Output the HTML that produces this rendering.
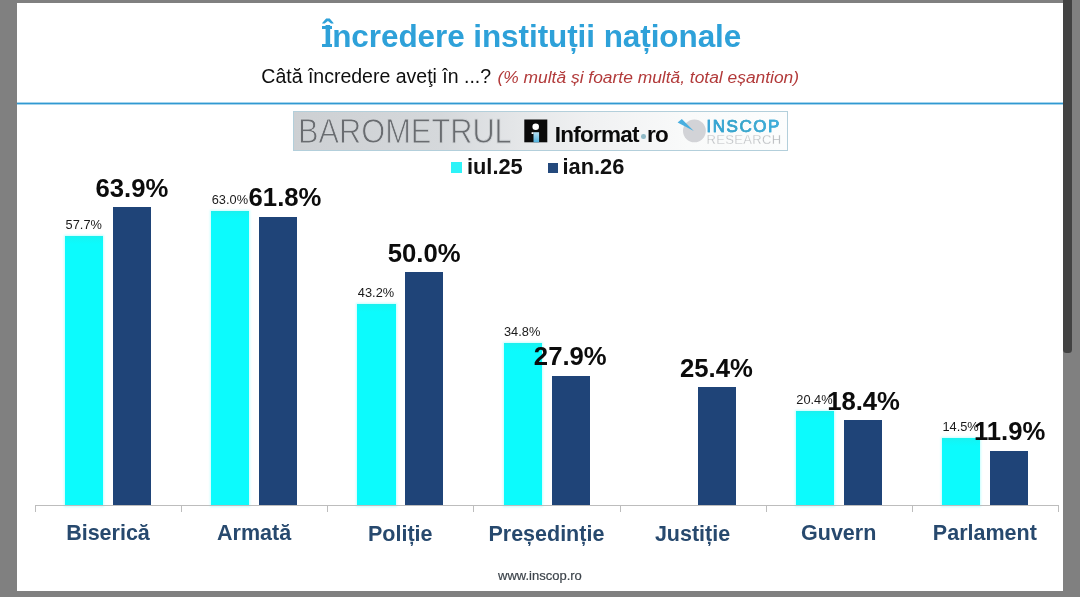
<!DOCTYPE html>
<html><head><meta charset="utf-8">
<style>
html,body{margin:0;padding:0;}
body{width:1080px;height:597px;background:#808080;position:relative;overflow:hidden;font-family:"Liberation Sans",sans-serif;}
#page{position:absolute;left:17px;top:3px;width:1046px;height:588px;background:#fff;}
#wrap{position:absolute;left:0;top:0;width:1080px;height:597px;will-change:transform;}
.abs{position:absolute;white-space:nowrap;line-height:1;}
#sb{position:absolute;left:1063px;top:0;width:9px;height:353px;background:#424242;border-radius:0 0 3.5px 3.5px;}
#title{left:323.5px;top:20.5px;font-size:31.5px;font-weight:bold;color:#2ea1d9;letter-spacing:-0.08px;}
#sub{left:261.3px;top:67.3px;font-size:19.5px;color:#0e0e0e;}
#sub i{color:#b23a3a;font-size:17.4px;margin-left:1px;}
#line{position:absolute;left:17px;top:102px;width:1046px;height:3px;background:linear-gradient(180deg,#a6d4ec 0,#a6d4ec 1px,#3199d2 1px,#3199d2 2px,#a6d4ec 2px,#a6d4ec 3px);}
.bar{position:absolute;}
.c{background:linear-gradient(180deg,#1cf0ee 0,#12f6f6 3px,#0cfbfd 8px,#0cfbfd 100%);box-shadow:0 0 2px 1px #c8ffff;}
.n{background:#1f4478;}
.big{font-size:25.7px;font-weight:bold;color:#0c0c0c;width:120px;text-align:center;}
.sm{font-size:12.8px;color:#1a1a1a;width:80px;text-align:center;}
.cat{font-size:21.5px;font-weight:bold;color:#27496e;text-align:center;width:146px;}
#axis{position:absolute;left:35px;top:505.2px;width:1024px;height:1px;background:#bdbdbd;}
.tick{position:absolute;top:505.7px;width:1px;height:6px;background:#bdbdbd;}
.leg{font-size:21.8px;font-weight:bold;color:#111;}
</style></head><body>
<div id="page"></div>
<div id="wrap">
<div id="sb"></div>
<div class="abs" id="title">Încredere instituții naționale</div>
<div style="position:absolute;left:321.8px;top:25.6px;width:10px;height:3.3px;background:#2ea1d9;"></div>
<div style="position:absolute;left:321.8px;top:43.6px;width:10px;height:3.3px;background:#2ea1d9;"></div>
<div class="abs" id="sub">Câtă încredere aveţi în ...? <i>(% multă și foarte multă, total eșantion)</i></div>
<div id="line"></div>

<div id="logo" style="position:absolute;left:293px;top:111px;width:492.5px;height:37.5px;border:1px solid #b3cfdb;background:linear-gradient(90deg,#cdd0d3 0%,#d5d8db 30%,#e4e6e8 45%,#f0f1f2 60%,#f9fafa 80%,#fcfdfd 100%);"></div>
<div class="abs" id="baro" style="left:297.8px;top:113.6px;font-size:34.6px;color:#696c70;transform-origin:0 0;transform:scaleX(0.89);-webkit-text-stroke:0.9px #d3d6d9;paint-order:fill stroke;">BAROMETRUL</div>
<svg style="position:absolute;left:524px;top:119px;" width="24" height="24" viewBox="0 0 24 24">
<defs><linearGradient id="g1" x1="0" y1="0" x2="0" y2="1"><stop offset="0" stop-color="#b5e0f3"/><stop offset="1" stop-color="#4fb0dc"/></linearGradient></defs>
<rect x="0.3" y="0.5" width="23" height="22.8" fill="#0a0a0a"/>
<circle cx="11.7" cy="7.7" r="3.3" fill="#fff"/>
<rect x="7.6" y="13.2" width="2" height="1.8" fill="#fff"/>
<rect x="9.5" y="13.2" width="5.6" height="10.1" fill="url(#g1)"/>
</svg>
<div class="abs" id="inf" style="left:554.8px;top:123.8px;font-size:22.5px;font-weight:bold;color:#0a0a0a;letter-spacing:-0.76px;">Informat<span style="display:inline-block;width:4.6px;height:4.6px;border-radius:50%;background:#8fb9c6;margin:0 1.6px 0 2.2px;vertical-align:3.3px;"></span>ro</div>
<svg style="position:absolute;left:672px;top:114px;" width="40" height="32" viewBox="0 0 40 32">
<circle cx="22.4" cy="16.9" r="11.4" fill="#d2d3d7"/>
<path d="M5.6 8.6 L9.8 5.0 L21.8 16.9 Z" fill="#49afe0"/>
</svg>
<div class="abs" id="insc" style="left:706.5px;top:117.5px;font-size:17px;color:transparent;background:linear-gradient(90deg,#2f9fd8 0%,#35a3c4 45%,#3fb0e2 100%);-webkit-background-clip:text;background-clip:text;letter-spacing:1.55px;-webkit-text-stroke:0.6px rgba(56,167,210,0.95);">INSCOP</div>
<div class="abs" id="res" style="left:706.5px;top:133px;font-size:13px;color:#b3b6ba;letter-spacing:0.35px;-webkit-text-stroke:0.35px #f9fafa;paint-order:fill stroke;">RESEARCH</div>

<div style="position:absolute;left:451px;top:162px;width:11px;height:11px;background:#2df3f8;"></div>
<div class="abs leg" style="left:467px;top:155.8px;">iul.25</div>
<div style="position:absolute;left:547.5px;top:162.5px;width:10.5px;height:10.5px;background:#24497c;"></div>
<div class="abs leg" style="left:562.5px;top:155.8px;">ian.26</div>

<div class="bar c" style="left:65.2px;top:235.86px;width:38.1px;height:269.74px"></div>
<div class="bar n" style="left:113.2px;top:206.8px;width:38px;height:298.8px"></div>
<div class="bar c" style="left:211.34px;top:211.02px;width:38.1px;height:294.58px"></div>
<div class="bar n" style="left:259.34px;top:216.64px;width:38px;height:288.96px"></div>
<div class="bar c" style="left:357.48px;top:303.82px;width:38.1px;height:201.78px"></div>
<div class="bar n" style="left:405.48px;top:271.95px;width:38px;height:233.65px"></div>
<div class="bar c" style="left:503.62px;top:343.19px;width:38.1px;height:162.41px"></div>
<div class="bar n" style="left:551.62px;top:375.53px;width:38px;height:130.07px"></div>
<div class="bar n" style="left:697.76px;top:387.25px;width:38px;height:118.35px"></div>
<div class="bar c" style="left:795.9px;top:410.69px;width:38.1px;height:94.91px"></div>
<div class="bar n" style="left:843.9px;top:420.06px;width:38px;height:85.54px"></div>
<div class="bar c" style="left:942.04px;top:438.34px;width:38.1px;height:67.26px"></div>
<div class="bar n" style="left:990.04px;top:450.52px;width:38px;height:55.08px"></div>
<div id="axis"></div>
<div class="tick" style="left:35px"></div>
<div class="tick" style="left:181px"></div>
<div class="tick" style="left:327px"></div>
<div class="tick" style="left:473px"></div>
<div class="tick" style="left:620px"></div>
<div class="tick" style="left:766px"></div>
<div class="tick" style="left:912px"></div>
<div class="tick" style="left:1058px"></div>
<div class="abs sm" style="left:43.75px;top:218.76px;">57.7%</div>
<div class="abs sm" style="left:189.89px;top:193.92px;">63.0%</div>
<div class="abs sm" style="left:336.03px;top:286.72px;">43.2%</div>
<div class="abs sm" style="left:482.17px;top:326.09px;">34.8%</div>
<div class="abs sm" style="left:774.45px;top:393.59px;">20.4%</div>
<div class="abs sm" style="left:920.59px;top:421.24px;">14.5%</div>
<div class="abs big" style="left:71.85px;top:175.5px;">63.9%</div>
<div class="abs big" style="left:224.99px;top:185.34px;">61.8%</div>
<div class="abs big" style="left:364.13px;top:240.65px;">50.0%</div>
<div class="abs big" style="left:510.27px;top:344.23px;">27.9%</div>
<div class="abs big" style="left:656.41px;top:355.95px;">25.4%</div>
<div class="abs big" style="left:803.55px;top:388.76px;">18.4%</div>
<div class="abs big" style="left:949.69px;top:419.22px;">11.9%</div>
<div class="abs cat" style="left:35px;top:522.5px;">Biserică</div>
<div class="abs cat" style="left:181.14px;top:522.5px;">Armată</div>
<div class="abs cat" style="left:327.28px;top:523.7px;">Poliție</div>
<div class="abs cat" style="left:473.42px;top:523.7px;">Președinție</div>
<div class="abs cat" style="left:619.56px;top:523.7px;">Justiție</div>
<div class="abs cat" style="left:765.7px;top:522.5px;">Guvern</div>
<div class="abs cat" style="left:911.84px;top:522.5px;">Parlament</div>

<div class="abs" style="left:498px;top:569.2px;font-size:13px;color:#3d444b;-webkit-text-stroke:0.2px #3d444b;">www.inscop.ro</div>
</div>
</body></html>
